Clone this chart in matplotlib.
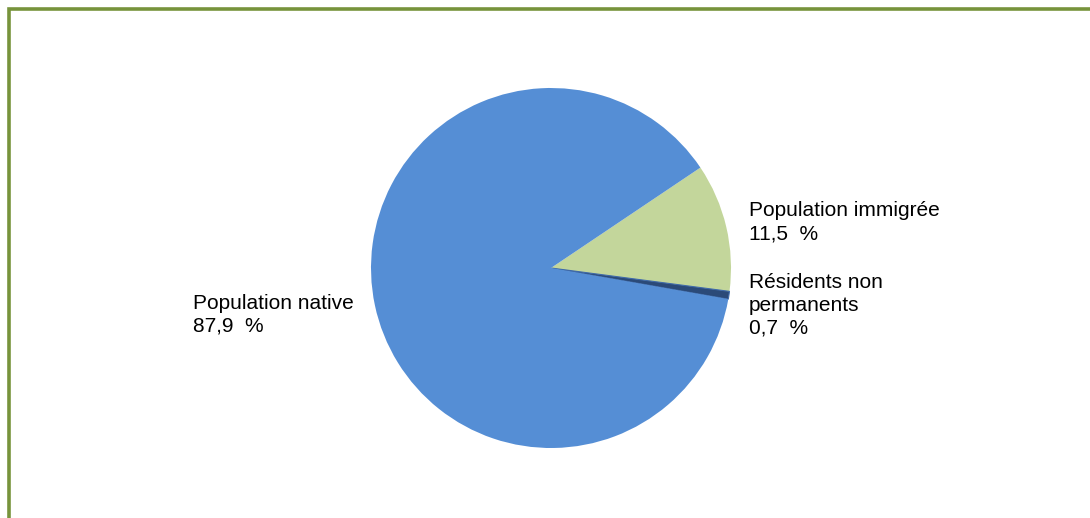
import matplotlib
matplotlib.use("Agg")
import matplotlib.pyplot as plt
from matplotlib.patches import Rectangle

# Data
categories = ["Population immigrée", "Résidents non\npermanents", "Population native"]
values = [11.5, 0.7, 87.9]
value_labels = ["11,5  %", "0,7  %", "87,9  %"]
colors = ["#C3D69B", "#2B4A78", "#558ED5"]

W, H = 1090, 518
fig = plt.figure(figsize=(W / 100, H / 100), dpi=100)
plt.rcParams['font.family'] = ['Liberation Sans', 'DejaVu Sans']

cx, cy, r = 551, 268, 180
ax = fig.add_axes([(cx - r) / W, (H - cy - r) / H, 2 * r / W, 2 * r / H])
wedges, _ = ax.pie(values, colors=colors, startangle=33.9, counterclock=False,
                   wedgeprops=dict(linewidth=0))
wedges[1].set_edgecolor('#3F6AA8')
wedges[1].set_linewidth(0.8)
ax.set_xlim(-1, 1)
ax.set_ylim(-1, 1)
ax.set_aspect('equal')
ax.axis('off')

# Labels: x, last-line baseline (px from top)
label_pos = [(749, 239), (749, 334), (193, 332)]
for (x, y), cat, val in zip(label_pos, categories, value_labels):
    fig.text(x / W, 1 - y / H, cat + "\n" + val, fontsize=15, ha='left',
             va='baseline', linespacing=1.27, color='black')

# Olive frame (extends past right/bottom edges)
fig.patches.append(Rectangle((8.5 / W, -0.1), 1.2, 1 - 8.5 / H + 0.1,
                             transform=fig.transFigure, fill=False,
                             edgecolor='#77933C', linewidth=2.6))

fig.savefig("out.png", dpi=100)
